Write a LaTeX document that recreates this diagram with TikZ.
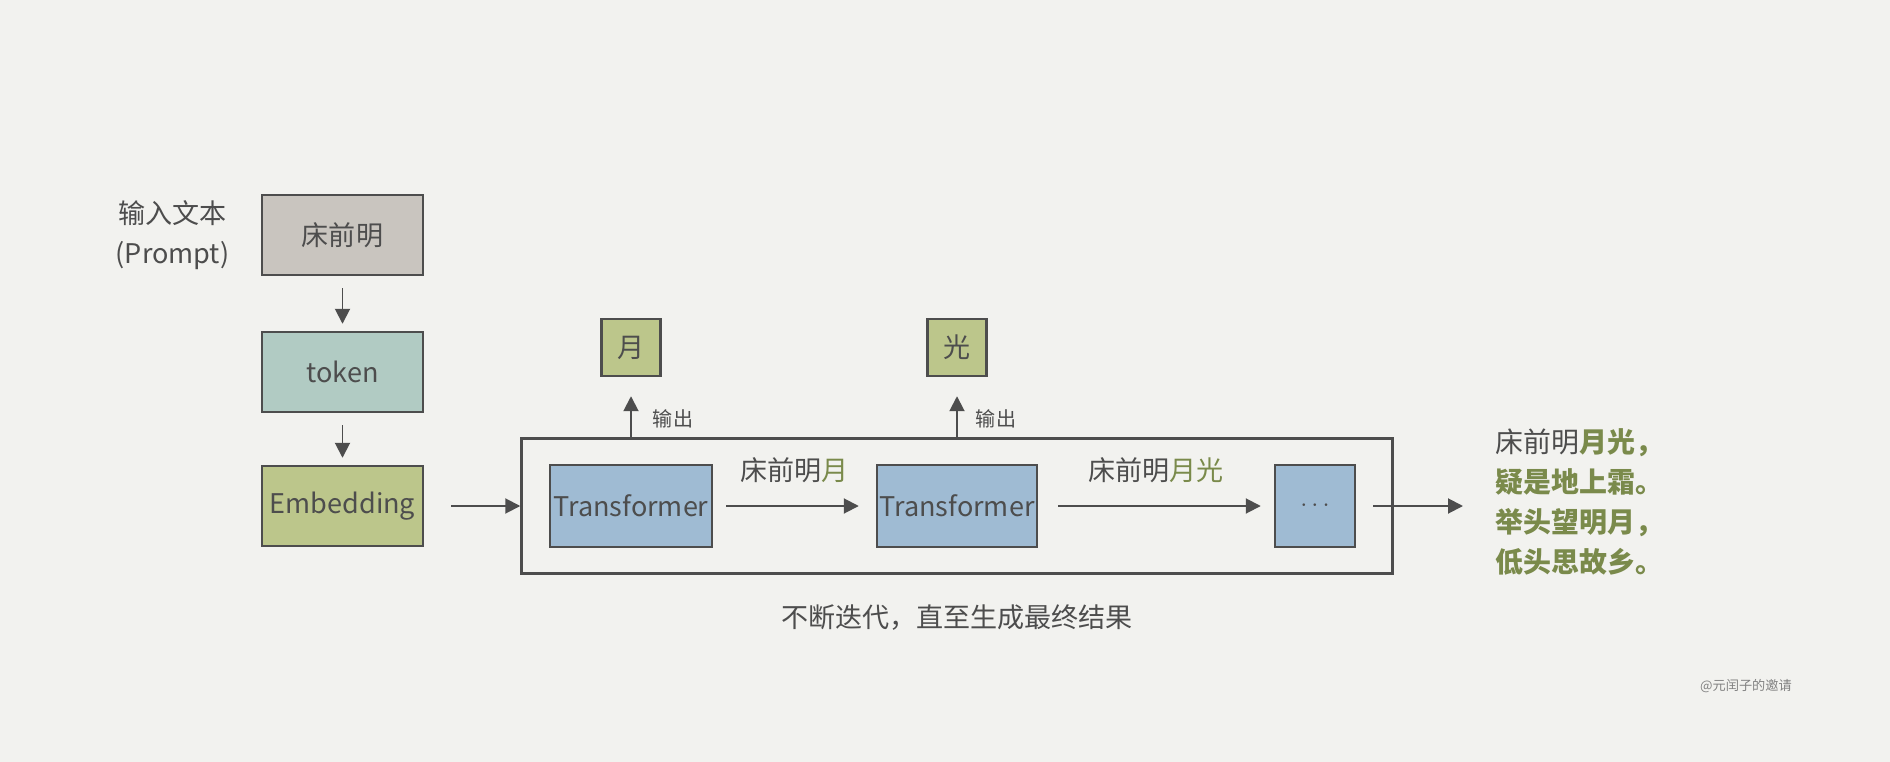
\documentclass[tikz,border=0pt]{standalone}
\usepackage{fontspec}
\setmainfont{Noto Sans CJK SC}
\usetikzlibrary{arrows.meta}
\definecolor{paper}{HTML}{F2F2EF}
\definecolor{ink}{HTML}{4D4D4D}
\definecolor{promptgray}{HTML}{C9C5BF}
\definecolor{tokenteal}{HTML}{B1CBC3}
\definecolor{embedgreen}{HTML}{BCC68B}
\definecolor{tfblue}{HTML}{9FBBD3}
\definecolor{poemgreen}{HTML}{7A8A4B}
\begin{document}
\begin{tikzpicture}[node distance=3cm,
    box/.style={draw=ink, line width=1.4pt, text=ink, inner sep=0pt,
        minimum width=3.22cm, minimum height=1.6cm,
        font=\fontsize{15.4pt}{18pt}\selectfont},
    smallbox/.style={box, minimum width=1.18cm, minimum height=1.14cm},
    note/.style={text=ink, inner sep=0pt, font=\fontsize{15.4pt}{22.8pt}\selectfont},
    outnote/.style={text=ink, inner sep=0pt, font=\fontsize{11.4pt}{13pt}\selectfont},
    flow/.style={draw=ink, line width=1.1pt, -{Triangle[length=0.3cm, width=0.3cm]}}]
        % Paper
        \fill[paper] (0,0) rectangle (37.8,-15.24);
        \useasboundingbox (0,0) rectangle (37.8,-15.24);

        % Input Column (Left)
        \node[box, fill=promptgray] (prompt) at (6.85,-4.7) {床前明};
        \node[box, fill=tokenteal] (token) [below of=prompt, node distance=2.74cm] {token};
        \node[box, fill=embedgreen] (embed) [below of=token, node distance=2.68cm] {Embedding};
        \node[note, align=center] (promptnote) [left of=prompt, node distance=3.4cm] {输入文本\\(Prompt)};

        % Transformer Loop (Middle Row)
        \node[box, fill=tfblue, minimum width=3.24cm, minimum height=1.64cm] (tf1) [right of=embed, node distance=5.77cm] {Transformer};
        \node[box, fill=tfblue, minimum width=3.2cm, minimum height=1.64cm] (tf2) [right of=tf1, node distance=6.52cm] {Transformer};
        \node[box, fill=tfblue, minimum width=1.6cm, minimum height=1.64cm] (dots) [right of=tf2, node distance=7.16cm] {$\cdots$};
        \node[draw=ink, line width=1.4pt, minimum width=17.42cm, minimum height=2.7cm] (loop) at (tf2) {};

        % Output Tokens (Top Row)
        \node[smallbox, fill=embedgreen] (out1) [above of=tf1, node distance=3.17cm] {月};
        \node[smallbox, fill=embedgreen] (out2) [above of=tf2, node distance=3.17cm] {光};

        % Result and Caption
        \node[note, align=left, anchor=west, font=\fontsize{15.9pt}{22.8pt}\selectfont] (poem) at (29.9,-10.04)
            {床前明\textcolor{poemgreen}{\bfseries 月光，}\\
             \textcolor{poemgreen}{\bfseries 疑是地上霜。}\\
             \textcolor{poemgreen}{\bfseries 举头望明月，}\\
             \textcolor{poemgreen}{\bfseries 低头思故乡。}};
        \node[note] (caption) [below of=loop, node distance=2.23cm] {不断迭代，直至生成最终结果};
        \node[text=ink!70, inner sep=0pt, font=\fontsize{7.5pt}{9pt}\selectfont] (mark) at (34.92,-13.72) {@元闰子的邀请};

        % Input Arrows
        \draw[flow, shorten <=0.24cm, shorten >=0.14cm] (prompt) -- (token);
        \draw[flow, shorten <=0.24cm, shorten >=0.14cm] (token) -- (embed);
        \draw[flow, shorten <=0.54cm] (embed) -- (loop);

        % Iteration Arrows
        \draw[flow, shorten <=0.26cm, shorten >=0.34cm] (tf1) -- node[note, above=0.44cm] {床前明\textcolor{poemgreen}{月}} (tf2);
        \draw[flow, shorten <=0.4cm, shorten >=0.26cm] (tf2) -- node[note, above=0.44cm] {床前明\textcolor{poemgreen}{月光}} (dots);
        \draw[flow, shorten <=0.34cm, shorten >=0.64cm] (dots) -- (dots -| poem.west);

        % Output Arrows
        \draw[flow, shorten >=0.38cm] (tf1 |- loop.north) -- node[outnote, right=0.42cm, pos=0.3] {输出} (out1);
        \draw[flow, shorten >=0.38cm] (tf2 |- loop.north) -- node[outnote, right=0.36cm, pos=0.3] {输出} (out2);
    \end{tikzpicture}
\end{document}
